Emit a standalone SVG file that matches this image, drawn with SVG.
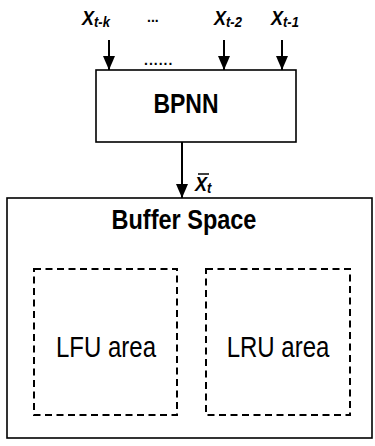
<svg xmlns="http://www.w3.org/2000/svg" width="375" height="446" viewBox="0 0 375 446">
<style>
text{font-family:"Liberation Sans",Arial,sans-serif;fill:#000}
.b{font-weight:bold}
.var{font-weight:bold;font-style:italic;font-size:18px}
.sub{font-size:13px}
.box{fill:#fff;stroke:#000;stroke-width:1.6}
.dash{fill:none;stroke:#000;stroke-width:2;stroke-dasharray:7 4.5}
.conn{stroke:#000;stroke-width:2;fill:none}
</style>
<defs>
<marker id="ah" markerUnits="userSpaceOnUse" markerWidth="15" markerHeight="12" refX="14" refY="6" orient="auto" viewBox="0 0 15 12">
<path d="M0,0 L14,6 L0,12 Z" fill="#000"/>
</marker>
</defs>
<rect width="375" height="446" fill="#fff"/>

<g id="inputs">
<text class="var" transform="translate(82,25) scale(1,1.1)">X<tspan class="sub" dy="2">t-k</tspan></text>
<text class="b" font-size="14" transform="translate(147,22)">...</text>
<text class="var" transform="translate(214,25) scale(1,1.1)">X<tspan class="sub" dy="2">t-2</tspan></text>
<text class="var" transform="translate(271,25) scale(1,1.1)">X<tspan class="sub" dy="2">t-1</tspan></text>
</g>

<g id="bpnn">
<rect class="box" x="96" y="70" width="200" height="72"/>
<text class="b" font-size="14" letter-spacing="1" transform="translate(144,65)">......</text>
<text class="b" font-size="23" text-anchor="middle" transform="translate(186,113) scale(1,1.2)">BPNN</text>
</g>

<g id="buffer">
<rect class="box" x="7" y="198" width="365" height="240"/>
<text class="b" font-size="23.5" text-anchor="middle" transform="translate(184,229) scale(1,1.2)">Buffer Space</text>
</g>

<g id="lfu">
<rect class="dash" x="34" y="269" width="143" height="146"/>
<text font-size="24" text-anchor="middle" transform="translate(106,357) scale(1,1.2)">LFU area</text>
</g>

<g id="lru">
<rect class="dash" x="206" y="269" width="144" height="146"/>
<text font-size="24" text-anchor="middle" transform="translate(278,357) scale(1,1.2)">LRU area</text>
</g>

<g id="connectors">
<line class="conn" x1="109" y1="40" x2="109" y2="70" marker-end="url(#ah)"/>
<line class="conn" x1="224" y1="40" x2="224" y2="70" marker-end="url(#ah)"/>
<line class="conn" x1="282" y1="40" x2="282" y2="70" marker-end="url(#ah)"/>
<line class="conn" x1="182" y1="142" x2="182" y2="198" marker-end="url(#ah)"/>
<line x1="198" y1="174" x2="209" y2="174" stroke="#000" stroke-width="1.5"/>
<text class="var" transform="translate(195,191) scale(1,1.1)">X<tspan class="sub" dy="2">t</tspan></text>
</g>
</svg>
